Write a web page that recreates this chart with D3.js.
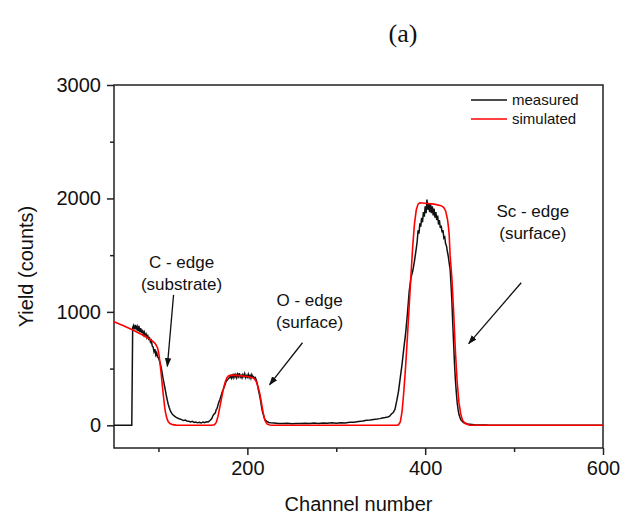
<!DOCTYPE html>
<html>
  <head>
    <meta charset="utf-8">
    <title>RBS spectrum (a)</title>
    <script src="https://d3js.org/d3.v7.min.js"></script>
    <style>
      body { margin: 0; background: #fff; }
      text { font-family: "Liberation Sans", Arial, sans-serif; fill: #111; }
    </style>
  </head>
  <body>
    <div id="vis"></div>
    <script>
        const width = 623;
        const height = 518;

        // measured spectrum [channel, counts]
        const measured = [
          [50,0],[70,0],[71,860],[72,880],[73,845],[74,885],[75,850],[76,872],[77,830],[78,876],[79,822],[80,856],
          [81,815],[82,842],[83,800],[84,822],[85,790],[86,806],[87,772],[88,790],[89,760],[90,770],[91,735],[92,748],
          [93,700],[94,690],[95,650],[96,672],[97,620],[98,640],[99,602],[100,596],[101,572],[102,545],[103,512],
          [104,470],[105,420],[106,380],[107,340],[108,300],[109,256],[110,220],[111,186],[112,160],[113,138],[114,118],
          [115,105],[116,95],[117,88],[118,80],[120,70],[122,62],[124,55],[126,50],[128,42],[130,46],[132,38],[134,35],
          [136,30],[138,36],[140,25],[142,29],[144,22],[146,26],[148,20],[150,28],[152,24],[154,32],[156,30],[158,42],
          [160,60],[161,80],[162,94],[164,110],[165,138],[166,150],[167,180],[168,205],[169,226],[170,250],[171,275],
          [172,300],[173,318],[174,340],[175,360],[176,385],[177,395],[178,405],[179,415],[180,420],[181,436],[182,415],
          [183,440],[184,420],[185,456],[186,425],[187,446],[188,420],[189,450],[190,430],[191,460],[192,425],[193,440],
          [194,418],[195,446],[196,430],[197,455],[198,420],[199,438],[200,425],[201,450],[202,420],[203,440],[204,415],
          [205,446],[206,425],[207,430],[208,410],[209,420],[210,400],[211,370],[212,330],[213,290],[214,256],[215,210],
          [216,160],[217,120],[218,94],[219,65],[220,45],[222,35],[224,25],[226,22],[230,20],[235,16],[240,15],[245,18],
          [250,14],[255,17],[260,15],[265,19],[270,16],[275,20],[280,17],[285,21],[290,18],[295,22],[300,19],[305,23],
          [310,21],[315,26],[320,28],[325,33],[330,38],[334,44],[338,47],[342,52],[346,55],[349,59],[352,64],[355,68],
          [358,74],[360,80],[362,100],[364,112],[366,140],[368,215],[370,300],[372,420],[374,540],[376,680],[378,810],
          [380,980],[382,1180],[384,1300],[386,1360],[388,1450],[390,1560],[391,1620],[392,1720],[393,1690],[394,1780],
          [395,1750],[396,1830],[397,1790],[398,1880],[399,1840],[400,1930],[401,1870],[402,1990],[403,1900],[404,1960],
          [405,1880],[406,1950],[407,1870],[408,1930],[409,1850],[410,1910],[411,1830],[412,1880],[413,1810],[414,1850],
          [415,1770],[416,1810],[417,1740],[418,1760],[419,1700],[420,1720],[421,1650],[422,1660],[423,1600],[424,1580],
          [425,1530],[426,1490],[427,1430],[428,1380],[429,1250],[430,1100],[431,900],[432,720],[433,540],[434,400],
          [435,290],[436,200],[437,140],[438,95],[440,50],[443,25],[448,12],[455,5],[470,2],[600,0]
        ];

        // simulated spectrum [channel, counts]
        const simulated = [
          [50,913],[60,880],[70,845],[80,805],[85,785],[90,760],[93,745],[95,732],[97,712],[99,682],[100,650],[101,600],
          [102,530],[103,460],[104,380],[105,300],[106,230],[107,160],[108,110],[109,75],[110,50],[111,32],[113,15],
          [116,6],[120,2],[125,0],[160,0],[163,5],[165,25],[167,80],[169,160],[171,240],[173,320],[175,380],[177,420],
          [179,438],[182,442],[190,438],[200,430],[206,420],[208,410],[210,385],[212,340],[214,280],[216,190],[218,100],
          [220,40],[222,12],[225,2],[228,0],[368,0],[370,5],[372,30],[374,120],[376,300],[378,520],[380,780],[382,1050],
          [384,1320],[386,1580],[388,1780],[390,1900],[392,1950],[394,1962],[400,1958],[410,1950],[418,1936],[421,1920],
          [423,1890],[425,1820],[426,1760],[427,1680],[428,1500],[430,1300],[432,1000],[434,650],[436,380],[438,200],
          [440,100],[442,45],[445,15],[450,2],[455,0],[600,0]
        ];

        const xMajor = [200, 400, 600];
        const xMinor = [100, 300, 500];
        const yMajor = [0, 1000, 2000, 3000];
        const yMinor = [500, 1500, 2500];

        const seriesNames = ["measured", "simulated"];
        const seriesColors = ["#111111", "#ff0000"];

        // text labels with the arrows pointing at the edges
        const notes = [
          {lines: ["C - edge", "(substrate)"], at: [126, 1390], from: [117, 1150], to: [110, 520]},
          {lines: ["O - edge", "(surface)"], at: [270, 1055], from: [262, 728], to: [225, 358]},
          {lines: ["Sc - edge", "(surface)"], at: [521, 1840], from: [508, 1257], to: [449, 720]}
        ];

        const margin = {top: 85, right: 20, bottom: 70, left: 114};

        const svg = d3.select("#vis").append("svg")
          .attr("width", width).attr("height", height);

        const x = d3.scaleLinear().domain([50, 600]).range([margin.left, width - margin.right]);
        const y = d3.scaleLinear().domain([-200, 3000]).range([height - margin.bottom, margin.top]);

        svg.append("defs").append("marker")
          .attr("id", "arrow")
          .attr("viewBox", "0 0 10 10")
          .attr("refX", 9).attr("refY", 5)
          .attr("markerWidth", 7).attr("markerHeight", 7)
          .attr("orient", "auto")
          .append("path")
          .attr("d", "M0,1.5 L10,5 L0,8.5 Z")
          .attr("fill", "#111");

        // frame
        svg.append("rect")
          .attr("x", x(50)).attr("y", y(3000))
          .attr("width", x(600) - x(50)).attr("height", y(-200) - y(3000))
          .attr("fill", "none").attr("stroke", "#222").attr("stroke-width", 1.5);

        // axes
        const fmt = d3.format("d");
        const xAxis = svg.append("g").attr("transform", `translate(0,${y(-200)})`);
        xAxis.call(d3.axisBottom(x).tickValues(xMajor).tickSize(7).tickPadding(6).tickFormat(fmt));
        xAxis.append("g").call(d3.axisBottom(x).tickValues(xMinor).tickSize(4).tickFormat(""));

        const yAxis = svg.append("g").attr("transform", `translate(${x(50)},0)`);
        yAxis.call(d3.axisLeft(y).tickValues(yMajor).tickSize(7).tickPadding(6).tickFormat(fmt));
        yAxis.append("g").call(d3.axisLeft(y).tickValues(yMinor).tickSize(4).tickFormat(""));

        svg.selectAll(".domain").remove();
        svg.selectAll(".tick line").attr("stroke", "#222").attr("stroke-width", 1.5);
        svg.selectAll(".tick text")
          .style("font-family", '"Liberation Sans", Arial, sans-serif')
          .style("font-size", "20px").attr("fill", "#111");

        // axis titles
        svg.append("text")
          .attr("x", (x(50) + x(600)) / 2).attr("y", 511)
          .attr("text-anchor", "middle").style("font-size", "20px")
          .text("Channel number");

        svg.append("text")
          .attr("transform", `translate(33,${(y(-200) + y(3000)) / 2}) rotate(-90)`)
          .attr("text-anchor", "middle").style("font-size", "20px")
          .text("Yield (counts)");

        svg.append("text")
          .attr("x", 403).attr("y", 42)
          .attr("text-anchor", "middle")
          .style("font-family", '"Liberation Serif", "Times New Roman", serif')
          .style("font-size", "26px")
          .text("(a)");

        // lines
        const line = d3.line().x(d => x(d[0])).y(d => y(d[1]));

        svg.append("path")
          .datum(measured)
          .attr("fill", "none").attr("stroke", seriesColors[0]).attr("stroke-width", 1.5)
          .attr("d", line);

        svg.append("path")
          .datum(simulated)
          .attr("fill", "none").attr("stroke", seriesColors[1]).attr("stroke-width", 1.6)
          .attr("d", line);

        // legend
        const legend = svg.append("g");
        seriesNames.forEach(function(name, i){
          legend.append("line")
            .attr("x1", 471).attr("x2", 507)
            .attr("y1", 100 + i * 19).attr("y2", 100 + i * 19)
            .attr("stroke", seriesColors[i]).attr("stroke-width", 1.5);
          legend.append("text")
            .attr("x", 512).attr("y", 105 + i * 19)
            .style("font-size", "15px")
            .text(name);
        });

        // annotations
        notes.forEach(function(n){
          n.lines.forEach(function(t, i){
            svg.append("text")
              .attr("x", x(n.at[0])).attr("y", y(n.at[1]) + i * 22)
              .attr("text-anchor", "middle").style("font-size", "17px")
              .text(t);
          });
          svg.append("line")
            .attr("x1", x(n.from[0])).attr("y1", y(n.from[1]))
            .attr("x2", x(n.to[0])).attr("y2", y(n.to[1]))
            .attr("stroke", "#111").attr("stroke-width", 1.3)
            .attr("marker-end", "url(#arrow)");
        });
    </script>
  </body>
</html>
